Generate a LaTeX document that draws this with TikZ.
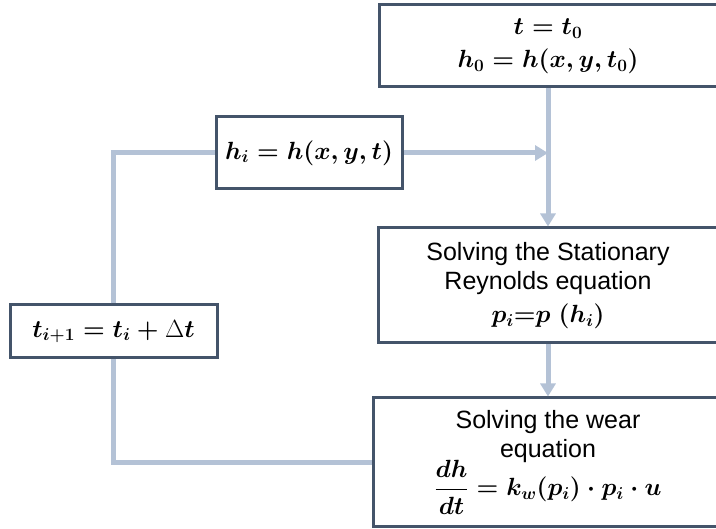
\documentclass[tikz,border=0pt]{standalone}
\usepackage{amsmath}
\usepackage[no-math]{fontspec}
\setmainfont{Liberation Sans}
\usepackage{tikz}
\usetikzlibrary{arrows.meta,positioning,calc}
\definecolor{Slate}{HTML}{44546A}
\definecolor{Steel}{HTML}{B4C2D6}
\tikzset{
  box/.style={draw=Slate,line width=3pt,fill=white,align=center,inner sep=2pt,font=\fontsize{25}{29}\selectfont\boldmath},
  link/.style={draw=Steel,line width=5pt},
  arrow/.style={link,-{Triangle[length=13pt,width=15pt]}}
}
\begin{document}
\begin{tikzpicture}[x=1pt,y=-1pt]
  \useasboundingbox (0,0) rectangle (716,529);
  \node[box,minimum width=338pt,minimum height=82pt] (init) at (548,46) {$t=t_0$\\[4pt]$h_0=h(x,y,t_0)$};
  \node[box,minimum width=186pt,minimum height=72pt] (hstate) at (309,153) {$h_i=h(x,y,t)$};
  \node[box,minimum width=207pt,minimum height=53pt] (tstep) at (113.5,331.5) {$t_{i+1}=t_i+\mbox{\unboldmath$\Delta$}t$};
  \node[box,minimum width=340pt,minimum height=115pt] (reyn) at (548,285.5) {Solving the Stationary\\Reynolds equation\\[4pt]$p_i{=}p\;(h_i)$};
  \node[box,minimum width=350pt,minimum height=129pt] (wear) at (548,462.5) {Solving the wear\\equation\\[-4pt]$\displaystyle\frac{dh}{dt}=k_w(p_i)\cdot p_i\cdot u$};

  \draw[arrow] (init) -- (reyn);
  \draw[arrow] (hstate) -- (hstate -| init);
  \draw[arrow] (reyn) -- (wear);
  \draw[link] (wear.west) -| (tstep.south);
  \draw[link] (tstep.north) |- (hstate.west);
\end{tikzpicture}
\end{document}
